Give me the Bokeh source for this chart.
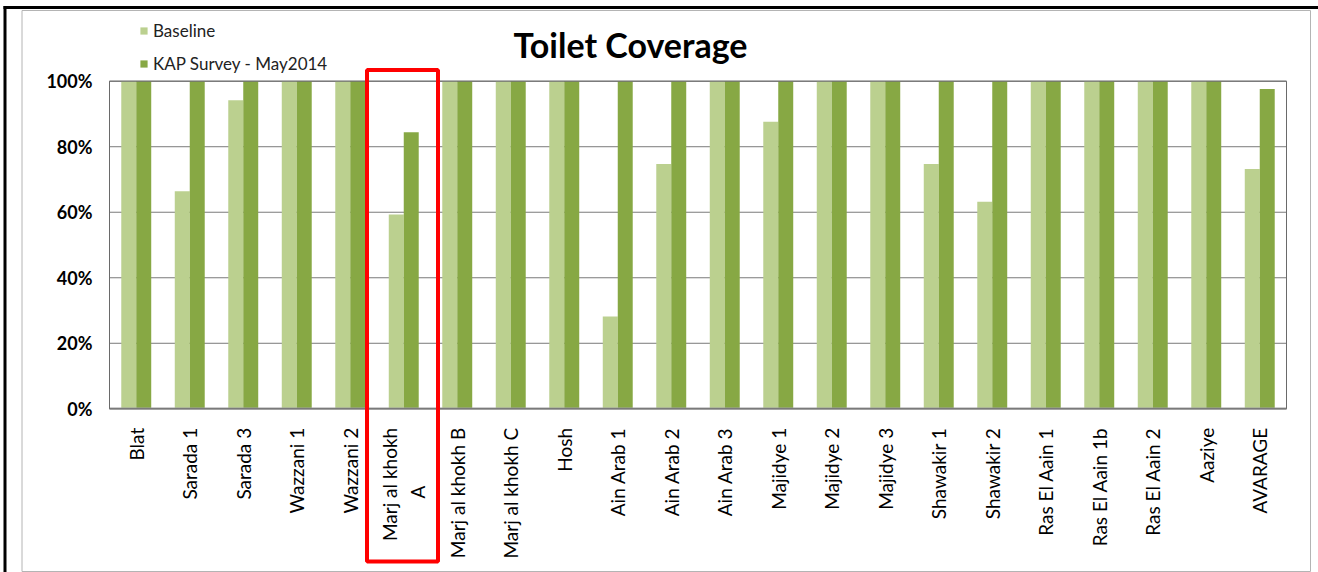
from bokeh.plotting import figure
from bokeh.models import (ColumnDataSource, Range1d, NumeralTickFormatter, Label,
                          Legend, LegendItem, BoxAnnotation, FixedTicker)
from bokeh.transform import dodge
from bokeh.embed import file_html
from bokeh.resources import INLINE
import math

categories = ["Blat", "Sarada 1", "Sarada 3", "Wazzani 1", "Wazzani 2", "Marj al khokh\nA",
              "Marj al khokh B", "Marj al khokh C", "Hosh", "Ain Arab 1", "Ain Arab 2",
              "Ain Arab 3", "Majidye 1", "Majidye 2", "Majidye 3", "Shawakir 1", "Shawakir 2",
              "Ras El Aain 1", "Ras El Aain 1b", "Ras El Aain 2", "Aaziye", "AVARAGE"]
baseline = [1.00, 0.664, 0.942, 1.00, 1.00, 0.593, 1.00, 1.00, 1.00, 0.282, 0.747,
            1.00, 0.876, 1.00, 1.00, 0.747, 0.632, 1.00, 1.00, 1.00, 1.00, 0.732]
kap_survey = [1.00, 1.00, 1.00, 1.00, 1.00, 0.844, 1.00, 1.00, 1.00, 1.00, 1.00,
              1.00, 1.00, 1.00, 1.00, 1.00, 1.00, 1.00, 1.00, 1.00, 1.00, 0.976]
y_ticks = [0, 0.2, 0.4, 0.6, 0.8, 1.0]
series_names = ["Baseline", "KAP Survey - May2014"]
title_text = "Toilet Coverage"

LIGHT = "#bbd08f"
DARK = "#87a844"
GRID = "#7a7a7a"
FONT = "Lato"

W, H = 1318, 572
# plot-area geometry in pixels (from the reference)
PL, PR, PT, PB = 109.0, 1286.0, 80.7, 408.3
n = len(categories)
cw = (PR - PL) / n
ph = PB - PT

xpos = list(range(n))
src = ColumnDataSource(dict(x=xpos, base=baseline, kap=kap_survey))

x0 = -0.5 - PL / cw
x1 = n - 0.5 + (W - PR) / cw
y0 = -(H - PB) / ph
y1 = 1 + PT / ph

p = figure(x_range=Range1d(x0, x1), y_range=Range1d(y0, y1), width=W, height=H,
           output_backend="svg", toolbar_location=None,
           min_border=0, min_border_left=0, min_border_right=0,
           min_border_top=0, min_border_bottom=0,
           background_fill_color="white", border_fill_color="white")
p.title.visible = False
p.outline_line_color = None

# horizontal gridlines limited to the plot area
p.xgrid.grid_line_color = None
p.ygrid.grid_line_color = None
p.segment(x0=-0.5, x1=n - 0.5, y0=y_ticks, y1=y_ticks, line_color=GRID,
          line_width=1, level="underlay")

r1 = p.vbar(x=dodge("x", -0.14), top="base", width=0.28, source=src,
            fill_color=LIGHT, line_color=None)
r2 = p.vbar(x=dodge("x", 0.14), top="kap", width=0.28, source=src,
            fill_color=DARK, line_color=None)

# axes drawn at the plot-area edges
p.yaxis.fixed_location = -0.5
p.yaxis.bounds = (0, 1)
p.yaxis.ticker = FixedTicker(ticks=y_ticks)
p.yaxis.formatter = NumeralTickFormatter(format="0%")
p.yaxis.major_label_text_font = FONT
p.yaxis.major_label_text_font_size = "18px"
p.yaxis.major_label_text_font_style = "bold"
p.yaxis.major_label_text_color = "black"
p.yaxis.major_tick_out = 0
p.yaxis.major_tick_in = 0
p.yaxis.minor_tick_out = 0
p.yaxis.minor_tick_in = 0
p.yaxis.major_label_standoff = 17
p.yaxis.axis_line_color = "#8a8a8a"

labels = {}
for i, c in enumerate(categories):
    if "\n" in c:
        a, b = c.split("\n")
        labels[i] = a + "\n" + b + "\u00a0" * 12
    else:
        labels[i] = c
p.xaxis.fixed_location = 0
p.xaxis.bounds = (-0.5, n - 0.5)
p.xaxis.ticker = FixedTicker(ticks=xpos)
p.xaxis.major_label_overrides = labels
p.xaxis.major_label_orientation = math.pi / 2
p.xaxis.major_label_text_font = FONT
p.xaxis.major_label_text_font_size = "19px"
p.xaxis.major_label_text_color = "black"
p.xaxis.major_tick_out = 0
p.xaxis.major_tick_in = 0
p.xaxis.minor_tick_out = 0
p.xaxis.minor_tick_in = 0
p.xaxis.major_label_standoff = 19
p.xaxis.axis_line_color = "#a0a0a0"
p.xaxis.axis_line_width = 2

# plot-area outline (top and right edges visible over the bars)
p.add_layout(BoxAnnotation(left=-0.5, right=n - 0.5, bottom=0, top=1,
                           fill_alpha=0, line_color="#6a6a6a", line_alpha=1,
                           line_width=1, level="overlay"))

# title
p.add_layout(Label(x=(630 - PL) / cw - 0.5, y=(PB - 44) / ph, text=title_text,
                   text_align="center", text_baseline="alphabetic",
                   text_font=FONT, text_font_size="34px", text_font_style="bold",
                   text_color="black"))

legend = Legend(items=[LegendItem(label=series_names[0], renderers=[r1]),
                       LegendItem(label=series_names[1], renderers=[r2])],
                location=(139, 498), orientation="vertical", padding=0, margin=0,
                spacing=12, label_height=20, glyph_height=9, glyph_width=9,
                label_standoff=5, border_line_color=None, background_fill_alpha=0,
                label_text_font=FONT, label_text_font_size="17px",
                label_text_color="#222222")
p.add_layout(legend)

def canvas_box(l, r, t, b, **kw):
    return BoxAnnotation(left=l, right=r, top=t, bottom=b,
                         left_units="canvas", right_units="canvas",
                         top_units="canvas", bottom_units="canvas", level="overlay", **kw)

# chart area border and page frame lines
p.add_layout(canvas_box(21.5, 1310, 10, 571, fill_alpha=0, line_color="#b4b4b4",
                        line_alpha=1, line_width=1))
p.add_layout(canvas_box(3, 1318, 5.5, 8.5, fill_color="black", fill_alpha=1, line_color=None))
p.add_layout(canvas_box(3, 6, 5.5, 572, fill_color="black", fill_alpha=1, line_color=None))
# red highlight box
p.add_layout(canvas_box(366.5, 437.5, 69.5, 561, fill_alpha=0, line_color="#ff0000",
                        line_alpha=1, line_width=4))

open("out.html", "w").write(file_html(p, INLINE))
